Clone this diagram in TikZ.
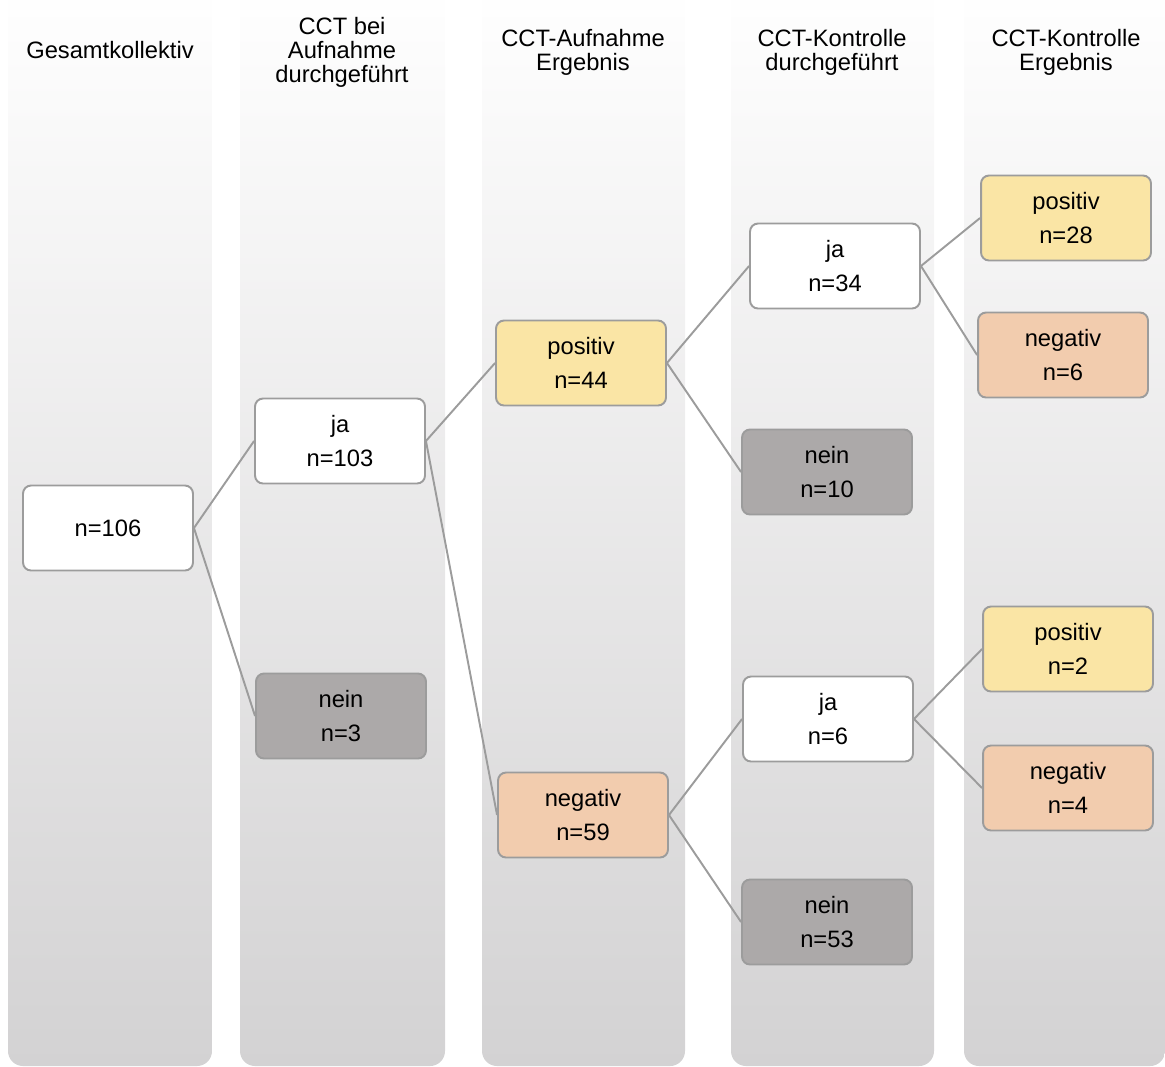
\documentclass[tikz,border=0pt]{standalone}
\usepackage{fontspec}
\setmainfont{Liberation Sans}
\usepackage{xcolor}
\usepackage{tikz}
\usetikzlibrary{positioning,shadings}
\definecolor{boxyellow}{HTML}{FAE5A5}
\definecolor{boxpeach}{HTML}{F2CCAE}
\definecolor{boxgray}{HTML}{ACA9A9}
\definecolor{boxline}{HTML}{9C9C9C}
\definecolor{colbottom}{HTML}{D3D2D3}
\tikzset{
	box/.style = {
			draw = boxline,
			line width = 1.1pt,
			rounded corners = 0.16cm,
			minimum width = 3.4cm,
			minimum height = 1.7cm,
			align = center,
			font = \fontsize{13.5}{19.3}\selectfont,
			fill = white,
		},
	yes/.style = {box, fill=boxyellow},
	neg/.style = {box, fill=boxpeach},
	none/.style = {box, fill=boxgray},
	header/.style = {align=center, font=\fontsize{13.5}{13.6}\selectfont},
	link/.style = {draw=boxline, line width=1.1pt},
	column/.style = {top color=white, bottom color=colbottom, draw=none, rounded corners=0.3cm},
}
\begin{document}
\begin{tikzpicture}[x=0.02cm, y=-0.02cm]
	\useasboundingbox (0,0) rectangle (1165,1066);
	% columns
	\foreach \xa/\xb in {8/212, 240/445, 482/685, 731/934, 964/1165}
	\shade[column] (\xa,-20) rectangle (\xb,1066);
	% headers
	\node[header] (h1) at (110,50) {Gesamtkollektiv};
	\node[header] (h2) at (342,52) {CCT bei\\Aufnahme\\durchgeführt};
	\node[header] (h3) at (583,52) {CCT-Aufnahme\\Ergebnis};
	\node[header] (h4) at (832,52) {CCT-Kontrolle\\durchgeführt};
	\node[header] (h5) at (1066,52) {CCT-Kontrolle\\Ergebnis};
	% boxes
	\node[box] (all) at (108,528) {n=106};
	\node[box] (ja1) at (340,441) {ja\\n=103};
	\node[none] (nein1) at (341,716) {nein\\n=3};
	\node[yes] (pos1) at (581,363) {positiv\\n=44};
	\node[neg] (neg1) at (583,815) {negativ\\n=59};
	\node[box] (ja2) at (835,266) {ja\\n=34};
	\node[none] (nein2) at (827,472) {nein\\n=10};
	\node[box] (ja3) at (828,719) {ja\\n=6};
	\node[none] (nein3) at (827,922) {nein\\n=53};
	\node[yes] (pos2) at (1066,218) {positiv\\n=28};
	\node[neg] (neg2) at (1063,355) {negativ\\n=6};
	\node[yes] (pos3) at (1068,649) {positiv\\n=2};
	\node[neg] (neg3) at (1068,788) {negativ\\n=4};
	% links
	\draw[link] (all.east) -- (ja1.west);
	\draw[link] (all.east) -- (nein1.west);
	\draw[link] (ja1.east) -- (pos1.west);
	\draw[link] (ja1.east) -- (neg1.west);
	\draw[link] (pos1.east) -- (ja2.west);
	\draw[link] (pos1.east) -- (nein2.west);
	\draw[link] (neg1.east) -- (ja3.west);
	\draw[link] (neg1.east) -- (nein3.west);
	\draw[link] (ja2.east) -- (pos2.west);
	\draw[link] (ja2.east) -- (neg2.west);
	\draw[link] (ja3.east) -- (pos3.west);
	\draw[link] (ja3.east) -- (neg3.west);
\end{tikzpicture}
\end{document}
